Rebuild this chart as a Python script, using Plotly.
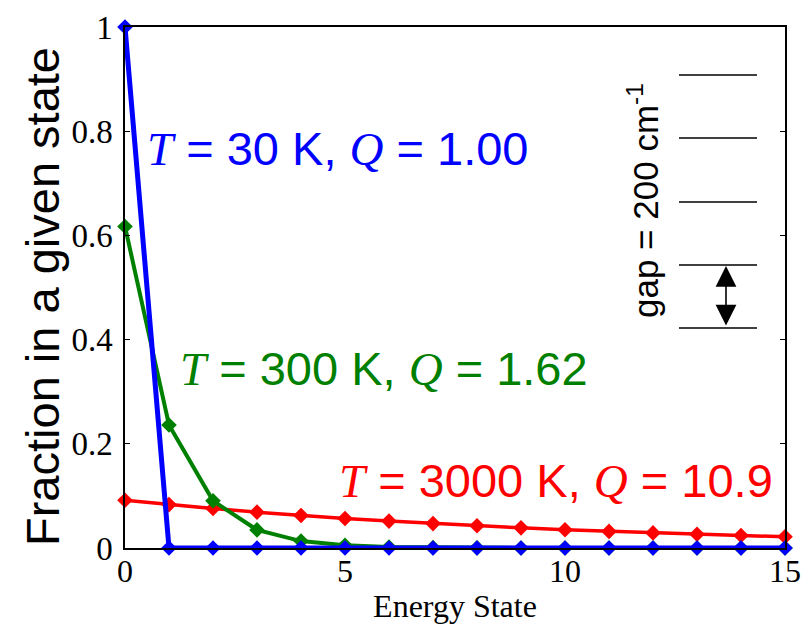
import plotly.graph_objects as go

energy_state = list(range(16))
frac_30K = [1.0, 0.0001, 0, 0, 0, 0, 0, 0, 0, 0, 0, 0, 0, 0, 0, 0]
frac_300K = [0.617, 0.236, 0.0905, 0.0347, 0.0133, 0.0051, 0.0019, 0.0007,
             0.0003, 0.0001, 0, 0, 0, 0, 0, 0]
frac_3000K = [0.0917, 0.0833, 0.0757, 0.0688, 0.0625, 0.0567, 0.0516, 0.0468,
              0.0426, 0.0387, 0.0351, 0.0319, 0.029, 0.0263, 0.0239, 0.0217]

x_ticks = [0, 5, 10, 15]
y_ticks = [0, 0.2, 0.4, 0.6, 0.8, 1]
y_tick_text = ["0", "0.2", "0.4", "0.6", "0.8", "1"]

SANS = "Liberation Sans"
SERIF = "Liberation Serif"

fig = go.Figure()
series = [
    (frac_3000K, "#ff0000", 3.5),
    (frac_300K, "#008000", 4),
    (frac_30K, "#0000ff", 5),
]
for ys, col, w in series:
    fig.add_trace(go.Scatter(
        x=energy_state, y=ys, mode="lines+markers",
        line=dict(color=col, width=w),
        marker=dict(symbol="diamond", size=12, color=col),
        cliponaxis=False, showlegend=False,
    ))

# the page shows the figure offset by the browser's 8px body margin
OFF = 8
W, H = 810 - OFF, 624 - OFF
L, R, T, B = 125 - OFF, 25, 27 - OFF, 76
pw, ph = W - L - R, H - T - B


def px(xp):
    return (xp - OFF - L) / pw


def py(yp):
    return (H - B - (yp - OFF)) / ph


def label(t, q, tval, qval):
    it = f"<span style='font-family:{SERIF}'><i>{{}}</i></span>"
    return f"{it.format(t)} = {tval}, {it.format(q)} = {qval}"


annos = [
    (label("T", "Q", "30 K", "1.00"), "#0000ff", 145, 148),
    (label("T", "Q", "300 K", "1.62"), "#008000", 178, 368),
    (label("T", "Q", "3000 K", "10.9"), "#ff0000", 337, 480),
]
for txt, col, xp_, yp_ in annos:
    fig.add_annotation(
        x=px(xp_), y=py(yp_), xref="paper", yref="paper",
        text=txt, showarrow=False, xanchor="left", yanchor="middle",
        font=dict(family=SANS, size=47, color=col),
    )

# y axis title placed as a rotated annotation
fig.add_annotation(
    x=px(42), y=py(297), xref="paper", yref="paper",
    text="Fraction in a given state", showarrow=False, textangle=-90,
    font=dict(family=SANS, size=47, color="black"),
    xanchor="center", yanchor="middle",
)

# energy level diagram
for yl in [75, 138, 202, 265, 328]:
    fig.add_shape(type="line", xref="paper", yref="paper",
                  x0=px(679), x1=px(757), y0=py(yl), y1=py(yl),
                  line=dict(color="black", width=1.5))
fig.add_annotation(
    x=px(726), y=py(266), xref="paper", yref="paper",
    ax=0, ay=61, text="", showarrow=True,
    arrowhead=2, arrowside="end+start", arrowsize=2.6, arrowwidth=1.6,
    arrowcolor="black", standoff=0, startstandoff=0,
)
fig.add_annotation(
    x=px(643), y=py(201), xref="paper", yref="paper",
    text="gap = 200 cm<sup>-1</sup>", showarrow=False, textangle=-90,
    font=dict(family=SANS, size=35, color="black"),
    xanchor="center", yanchor="middle",
)

fig.update_xaxes(
    range=[0, 15], tickvals=x_ticks, ticks="", showline=True, mirror=True,
    linecolor="black", linewidth=1.5, showgrid=False, zeroline=False,
    ticklabelstandoff=-6, automargin=False,
    tickfont=dict(family=SERIF, size=32, color="black"),
    title=dict(text="Energy State", font=dict(family=SERIF, size=32, color="black"), standoff=6),
)
fig.update_yaxes(
    range=[0, 1], tickvals=y_ticks, ticktext=y_tick_text, ticks="inside",
    ticklen=5, tickcolor="black", tickwidth=1, showline=True, mirror="ticks",
    linecolor="black", linewidth=1.5, showgrid=False, zeroline=False,
    ticklabelstandoff=4, automargin=False,
    tickfont=dict(family=SERIF, size=33, color="black"),
)
fig.update_layout(
    width=W, height=H, margin=dict(l=L, r=R, t=T, b=B, autoexpand=False),
    font=dict(family=SERIF, color="black"),
    plot_bgcolor="white", paper_bgcolor="white",
)
fig.write_html("out.html")
